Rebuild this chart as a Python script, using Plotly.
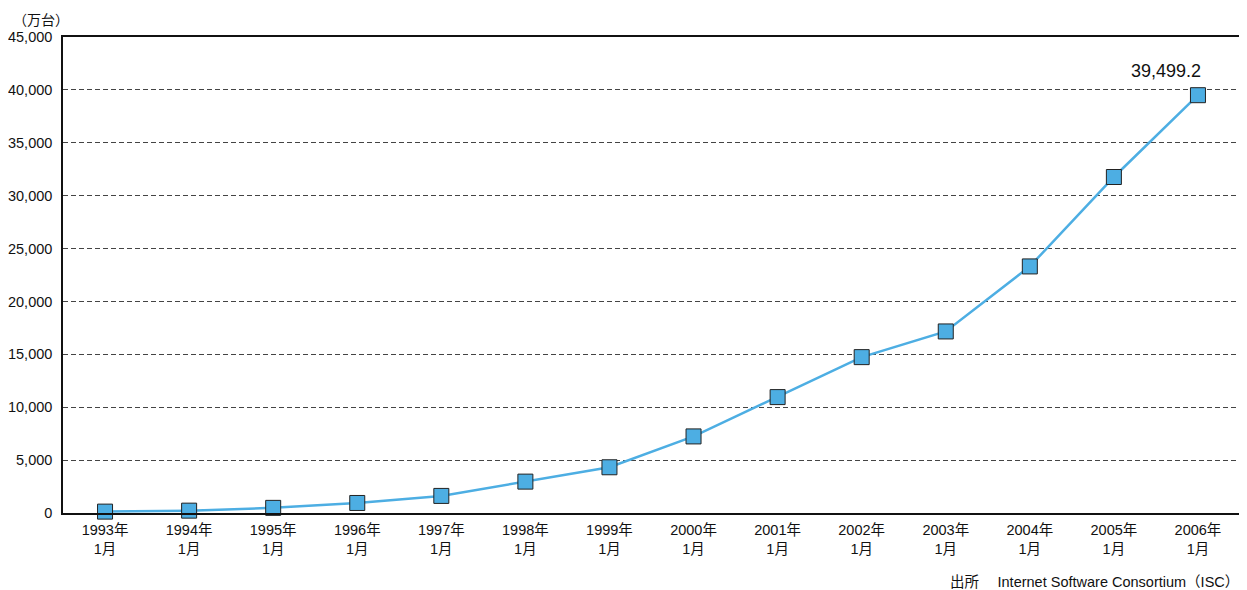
import plotly.graph_objects as go

years = ["1993", "1994", "1995", "1996", "1997", "1998", "1999",
         "2000", "2001", "2002", "2003", "2004", "2005", "2006"]
x_labels = [f"{y}年<br>1月" for y in years]
hosts = [131.3, 221.7, 485.2, 947.2, 1614.6, 2967.0, 4323.0,
         7239.8, 10957.4, 14734.5, 17163.8, 23310.1, 31764.6, 39499.2]
y_ticks = [0, 5000, 10000, 15000, 20000, 25000, 30000, 35000, 40000, 45000]
y_tick_text = [f"{v:,}" for v in y_ticks]

FONT = "Liberation Sans, Arial, Noto Sans CJK JP, sans-serif"

fig = go.Figure()
fig.add_trace(go.Scatter(
    x=x_labels, y=hosts, mode="lines+markers",
    line=dict(color="#4DAEE3", width=2.5),
    marker=dict(symbol="square", size=15, color="#4DAEE3",
                line=dict(color="#222222", width=1)),
    cliponaxis=False, showlegend=False,
))

fig.add_annotation(x=x_labels[-1], y=hosts[-1], text=f"{hosts[-1]:,.1f}",
                   showarrow=False, yshift=24, xshift=-32,
                   font=dict(size=18, color="#111111", family=FONT))

fig.add_annotation(xref="paper", yref="paper", x=-0.044, y=1.0,
                   xanchor="left", yanchor="bottom", text="（万台）",
                   showarrow=False, yshift=6,
                   font=dict(size=14, color="#111111",
                             family="Noto Sans CJK JP, sans-serif"))

fig.add_annotation(xref="paper", yref="paper", x=1.0, y=-0.145,
                   xanchor="right", yanchor="middle", xshift=1,
                   text="出所　 Internet Software Consortium（ISC）",
                   showarrow=False, font=dict(size=14.5, color="#111111",
                                              family="Liberation Sans, Noto Sans CJK JP, sans-serif"))

fig.update_layout(
    width=1239, height=582,
    margin=dict(l=55, r=7, t=29, b=77),
    paper_bgcolor="white", plot_bgcolor="white",
    font=dict(family=FONT, size=14.5, color="#111111"),
    xaxis=dict(type="category", range=[-0.5, 13.5], showgrid=False,
               showline=True, linecolor="#111111", linewidth=1.5, mirror=True,
               ticks="", tickfont=dict(size=14.5), fixedrange=True,
               ticklabelstandoff=3, automargin=False),
    yaxis=dict(range=[0, 45000], tickvals=y_ticks, ticktext=y_tick_text,
               showgrid=True, gridcolor="#444444", griddash="5px,3px", gridwidth=1,
               showline=True, linecolor="#111111", linewidth=1.5, mirror=True,
               ticks="", ticklabelstandoff=6, zeroline=False,
               tickfont=dict(size=14.5), fixedrange=True, automargin=False),
)

fig.write_html("out.html")
